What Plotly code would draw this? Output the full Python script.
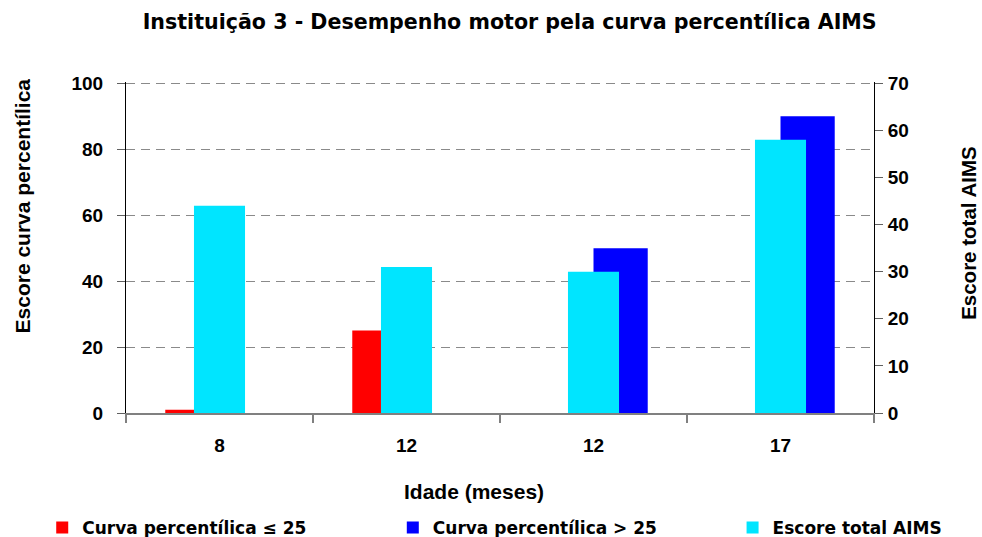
import plotly.graph_objects as go

# Data
idades = ["8", "12", "12", "17"]
curva_ate_25 = [1, 25, 0, 0]        # Curva percentílica <= 25 (eixo esquerdo)
curva_acima_25 = [0, 0, 50, 90]     # Curva percentílica > 25 (eixo esquerdo)
escore_aims = [44, 31, 30, 58]      # Escore total AIMS (eixo direito)
ticks_esq = [0, 20, 40, 60, 80, 100]
ticks_dir = [0, 10, 20, 30, 40, 50, 60, 70]

pos = list(range(len(idades)))
ARIAL = "Liberation Sans, Arial, sans-serif"
WIDE = "DejaVu Sans, Verdana, sans-serif"

fig = go.Figure()

fig.add_trace(go.Bar(
    x=pos, y=curva_ate_25, name="Curva percentílica ≤ 25",
    marker=dict(color="#FF0000", line=dict(width=0)),
    width=0.29, offset=-0.29, yaxis="y", legend="legend",
))
fig.add_trace(go.Bar(
    x=pos, y=curva_acima_25, name="Curva percentílica > 25",
    marker=dict(color="#0000FF", line=dict(width=0)),
    width=0.29, offset=0.0, yaxis="y", legend="legend2",
))
fig.add_trace(go.Bar(
    x=pos, y=escore_aims, name="Escore total AIMS",
    marker=dict(color="#00E5FF", line=dict(width=0)),
    width=0.273, offset=-0.1365, yaxis="y2", legend="legend3",
))

leg_font = dict(family=WIDE, size=17, weight="bold", color="black")
def legenda(x):
    return dict(xref="container", yref="container", x=x, y=0.017,
                xanchor="left", yanchor="middle", font=leg_font,
                bgcolor="rgba(0,0,0,0)", borderwidth=0, itemwidth=30)

# a hair above the top tick so the dashed grid line at 100 is drawn
topo_esq = 100.4
topo_dir = topo_esq * 0.7

fig.update_layout(
    width=982, height=537,
    paper_bgcolor="white", plot_bgcolor="white",
    margin=dict(l=126, r=108, t=82, b=124, autoexpand=False),
    barmode="overlay",
    font=dict(family=ARIAL, color="black", size=19, weight="bold"),
    title=dict(
        text="Instituição 3 - Desempenho motor pela curva percentílica AIMS",
        xref="container", x=0.519, xanchor="center",
        yref="container", y=0.959, yanchor="middle",
        font=dict(size=20.6, family=WIDE, weight="bold"),
    ),
    xaxis=dict(
        range=[-0.5, len(idades) - 0.5],
        tickvals=pos, ticktext=idades,
        ticks="", showgrid=False, zeroline=False, automargin=False,
        showline=True, linecolor="#808080", linewidth=1.5,
        tickfont=dict(size=19, weight="bold"), ticklabelstandoff=14,
        minor=dict(tick0=-0.5, dtick=1, ticks="outside", ticklen=8,
                   tickcolor="#808080", tickwidth=1.5, showgrid=False),
    ),
    yaxis=dict(
        range=[0, topo_esq], tickvals=ticks_esq,
        ticks="outside", ticklen=8, tickcolor="#606060",
        showline=True, linecolor="black", linewidth=1,
        showgrid=True, gridcolor="#8a8a8a", griddash="9px,6px", gridwidth=1.3,
        zeroline=False, automargin=False,
        tickfont=dict(size=19, weight="bold"), ticklabelstandoff=10,
    ),
    yaxis2=dict(
        range=[0, topo_dir], tickvals=ticks_dir,
        overlaying="y", side="right",
        ticks="outside", ticklen=8, tickcolor="#606060",
        showline=True, linecolor="black", linewidth=1,
        showgrid=False, zeroline=False, automargin=False,
        tickfont=dict(size=19, weight="bold"), ticklabelstandoff=1,
    ),
    legend=legenda(0.043),
    legend2=legenda(0.400),
    legend3=legenda(0.746),
    showlegend=True,
)

# Títulos dos eixos
fig.add_annotation(text="Escore curva percentílica", textangle=-90,
                   xref="paper", yref="paper", x=-0.139, y=0.624,
                   xanchor="center", yanchor="middle",
                   showarrow=False, font=dict(size=21, weight="bold"))
fig.add_annotation(text="Escore total AIMS", textangle=-90,
                   xref="paper", yref="paper", x=1.126, y=0.545,
                   xanchor="center", yanchor="middle",
                   showarrow=False, font=dict(size=20.5, weight="bold"))
fig.add_annotation(text="Idade (meses)",
                   xref="paper", yref="paper", x=0.465, y=-0.236,
                   xanchor="center", yanchor="middle",
                   showarrow=False, font=dict(size=21, weight="bold"))

# page without the default body margin, so the figure fills the window
fig.write_html("out.html", config={"displayModeBar": False},
               post_script="document.body.style.margin='0';")
